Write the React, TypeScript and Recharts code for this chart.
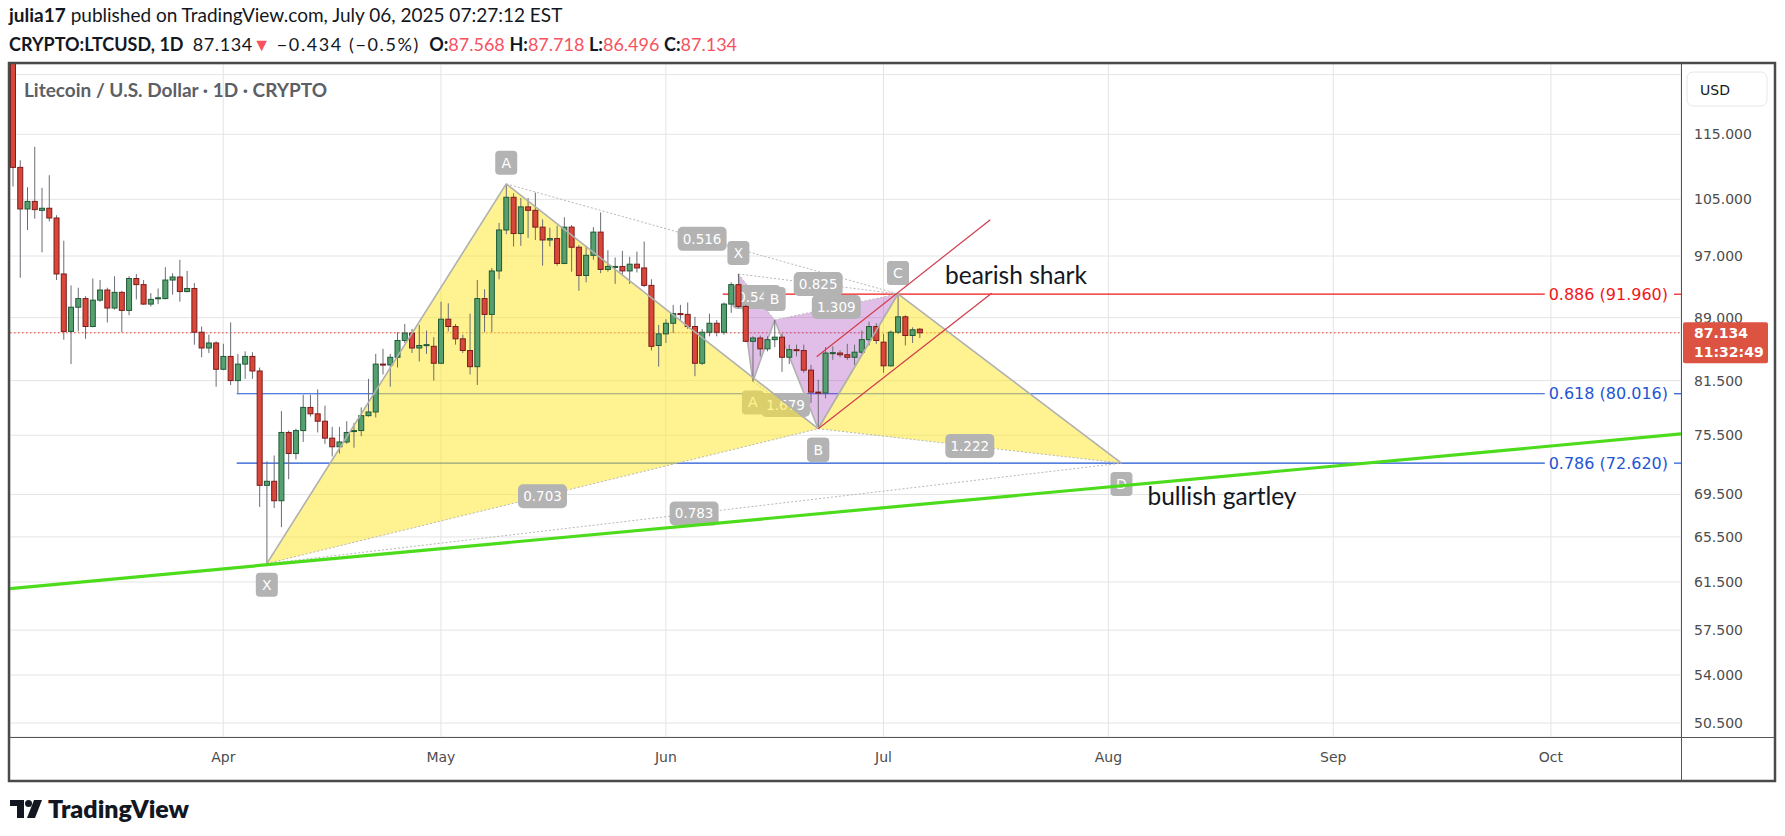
import React from "react";
import { Bar, CartesianGrid, ComposedChart, Scatter, XAxis, YAxis } from "recharts";

// x values are day numbers counted from 2025-03-01 (Apr 1 = 31)
// each row is [open, high, low, close]
const marchFirstDay = 2;
const marchOHLC = [
  [129, 131, 106.9, 109.8], [109.8, 110.9, 94.1, 103.6], [103.6, 106.8, 100.6, 104.7],
  [104.7, 113.0, 102.2, 103.5], [103.4, 106.7, 97.5, 103.7], [103.7, 108.6, 101.8, 102.3],
  [102.3, 102.7, 93.8, 94.6], [94.6, 99.1, 86.3, 87.3], [87.3, 93.1, 83.4, 90.3],
  [90.3, 92.8, 87.3, 91.4], [91.4, 91.7, 86.4, 87.9], [87.9, 94.0, 87.8, 91.2],
  [91.2, 93.8, 91.0, 92.5], [92.5, 92.8, 88.4, 90.2], [90.2, 94.3, 90.0, 92.2],
  [92.2, 92.4, 87.2, 89.9], [89.9, 94.3, 89.3, 94.0], [94.0, 94.6, 91.3, 93.2],
  [93.2, 93.8, 90.6, 90.7], [90.7, 92.1, 90.4, 91.3], [91.4, 92.7, 90.7, 91.5],
  [91.4, 95.5, 91.3, 93.8], [93.8, 94.7, 91.9, 94.2], [94.2, 96.5, 91.0, 92.3],
  [92.3, 95.0, 92.2, 92.7], [92.7, 93.4, 85.7, 87.2], [87.2, 87.9, 84.2, 85.3],
  [85.3, 86.9, 84.7, 85.9], [85.9, 86.1, 80.8, 82.8],
];
const aprilFirstDay = 31;
const aprilOHLC = [
  [82.8, 85.8, 82.7, 84.3], [84.3, 88.4, 81.0, 81.5], [81.5, 84.6, 80.1, 83.4],
  [83.4, 84.9, 81.7, 84.3], [84.3, 84.8, 81.7, 82.6], [82.6, 83.0, 68.3, 70.4],
  [70.4, 72.8, 63.1, 70.8], [70.8, 73.4, 68.2, 68.9], [68.9, 78.1, 66.4, 75.8],
  [75.8, 76.0, 71.0, 73.6], [73.6, 76.2, 73.0, 76.0], [76.0, 79.9, 74.8, 78.5],
  [78.5, 79.9, 77.5, 77.8], [77.8, 80.5, 75.8, 77.0], [77.0, 78.7, 74.6, 75.2],
  [75.2, 76.4, 73.3, 74.3], [74.3, 76.4, 73.6, 74.8], [74.8, 77.0, 74.6, 75.8],
  [75.9, 76.8, 74.2, 76.0], [76.0, 78.5, 75.4, 77.6], [77.6, 81.7, 77.5, 78.0],
  [78.0, 84.6, 77.4, 83.4], [83.4, 85.2, 82.2, 83.3], [83.3, 84.6, 80.8, 84.2],
  [84.2, 87.2, 83.0, 86.2], [86.2, 88.2, 85.9, 87.1], [87.1, 87.6, 84.7, 85.3],
  [85.3, 88.1, 83.7, 85.6], [85.6, 87.4, 84.6, 85.7], [85.5, 86.6, 81.5, 83.5],
];
const mayFirstDay = 61;
const mayOHLC = [
  [83.5, 91.0, 83.4, 88.8], [88.8, 90.8, 87.3, 87.9], [87.9, 88.2, 85.7, 86.4],
  [86.4, 86.9, 84.7, 85.0], [85.0, 89.5, 82.2, 83.1], [83.1, 93.8, 81.0, 91.4],
  [91.4, 92.6, 87.2, 89.4], [89.4, 95.4, 87.2, 95.0], [95.0, 101.6, 93.9, 100.6],
  [100.6, 107.3, 100.0, 105.3], [105.3, 105.9, 98.3, 100.1], [100.1, 105.2, 98.4, 103.9],
  [103.9, 105.2, 99.5, 103.4], [103.4, 106.0, 99.2, 101.0], [101.0, 102.1, 95.7, 99.2],
  [99.2, 100.9, 98.3, 99.4], [99.4, 101.2, 95.7, 96.0], [96.0, 102.4, 95.9, 101.0],
  [101.0, 101.3, 94.9, 98.2], [98.2, 98.5, 92.4, 94.4], [94.4, 98.4, 93.5, 97.1],
  [97.1, 101.0, 96.5, 100.3], [100.3, 103.1, 94.7, 95.2], [95.2, 97.8, 94.9, 95.6],
  [95.5, 96.8, 93.3, 95.6], [95.6, 97.7, 94.5, 95.0], [95.0, 96.9, 93.3, 95.9],
  [95.9, 97.6, 94.8, 95.4], [95.4, 99.0, 92.9, 93.1], [93.1, 93.9, 85.0, 85.5],
  [85.6, 88.1, 83.1, 87.0],
];
const juneFirstDay = 92;
const juneOHLC = [
  [87.0, 88.8, 85.9, 88.3], [88.3, 90.6, 87.1, 89.5], [89.5, 90.6, 88.7, 89.4],
  [89.4, 90.9, 87.6, 87.9], [87.9, 89.1, 82.0, 83.5], [83.5, 87.6, 83.3, 87.2],
  [87.2, 89.5, 86.7, 88.3], [88.3, 88.7, 86.7, 87.2], [87.2, 90.9, 86.9, 90.7],
  [90.7, 93.5, 89.6, 93.2], [93.2, 94.6, 90.2, 90.4], [90.4, 90.6, 86.0, 86.1],
  [86.1, 86.7, 81.4, 86.5], [86.5, 86.8, 84.3, 85.2], [85.2, 86.7, 84.9, 86.3],
  [86.3, 88.7, 85.4, 86.6], [86.6, 87.0, 82.5, 84.2], [84.2, 85.7, 83.4, 85.1],
  [85.1, 85.7, 84.3, 85.0], [85.0, 85.7, 82.4, 82.7], [82.7, 83.3, 79.0, 80.2],
  [80.2, 81.6, 76.2, 80.1], [80.1, 85.4, 79.5, 84.7], [84.7, 85.5, 83.9, 84.75],
  [84.7, 85.0, 84.2, 84.5], [84.5, 85.8, 83.9, 84.2], [84.2, 85.7, 83.3, 84.8],
  [84.8, 87.4, 84.6, 86.3], [86.3, 88.5, 85.6, 87.9], [87.9, 88.3, 85.8, 86.2],
];
const julyFirstDay = 122;
const julyOHLC = [
  [86.0, 87.0, 82.4, 83.2], [83.2, 87.4, 83.1, 87.2], [87.2, 92.0, 87.0, 89.1],
  [89.1, 89.3, 85.6, 86.8], [86.8, 87.8, 85.9, 87.5], [87.568, 87.718, 86.496, 87.134],
];

const monthTicks = [31, 61, 92, 122, 153, 184, 214];
const monthLabels = ["Apr", "May", "Jun", "Jul", "Aug", "Sep", "Oct"];
const priceTicks = [125, 115, 105, 97, 89, 81.5, 75.5, 69.5, 65.5, 61.5, 57.5, 54, 50.5];
const hiddenTick = 125; // sits under the USD badge
const lastPrice = 87.134;
const countdown = "11:32:49";

// bullish gartley X A B C D
const gartleyNames = ["X", "A", "B", "C", "D"];
const gartleyDays = [37, 70, 113, 124, 154.8];
const gartleyPrices = [63.1, 107.3, 76.2, 92.0, 72.62];
const gartleyRatios = ["0.703", "0.516", "1.222", "0.783"]; // XB, AC, BD, XD

// bearish shark X A B C D
const sharkNames = ["X", "A", "B", "C", "D"];
const sharkDays = [102, 104, 107, 113, 124];
const sharkPrices = [94.6, 81.4, 88.7, 76.2, 92.0];
const sharkRatios = ["0.541", "1.679", "1.309", "0.825"];

// fib levels
const levelNames = ["0.886", "0.618", "0.786"];
const levelPrices = [91.96, 80.016, 72.62];
const levelStartDays = [99.84, 32.85, 32.85];

const trendDays = [1.6, 231.93];
const trendPrices = [60.94, 75.64];
const channelUpperDays = [112.79, 136.73];
const channelUpperPrices = [84.27, 102.06];
const channelLowerDays = [113, 136.91];
const channelLowerPrices = [76.2, 92.09];

const X_DOMAIN: [number, number] = [1.6, 231.93];
const Y_DOMAIN: [number, number] = [49.52, 126.87];

const candles = [
  { start: marchFirstDay, rows: marchOHLC },
  { start: aprilFirstDay, rows: aprilOHLC },
  { start: mayFirstDay, rows: mayOHLC },
  { start: juneFirstDay, rows: juneOHLC },
  { start: julyFirstDay, rows: julyOHLC },
].flatMap((m) => m.rows.map((r, i) => ({ d: m.start + i, o: r[0], h: r[1], l: r[2], c: r[3] })));

const toPoints = (days: number[], prices: number[]) => days.map((d, i) => ({ d, p: prices[i] }));

const AXIS_FONT = "DejaVu Sans";
const TEXT_FONT = "Lato, 'Open Sans', sans-serif";
const GREY_LABEL = "#b3b3b3";

type Pt = { x: number; y: number };

const Candle = (props: any) => {
  const { x, y, width, height, payload } = props;
  if (!payload || !Number.isFinite(x) || !Number.isFinite(y)) return <g />;
  const cx = x + width / 2;
  const top = Math.min(y, y + height);
  const bot = Math.max(y, y + height);
  const span = Math.log(payload.h / payload.l);
  const toY = (v: number) => top + (Math.log(payload.h / v) / span) * (bot - top);
  const up = payload.c >= payload.o;
  const yo = toY(payload.o);
  const yc = toY(payload.c);
  const bt = Math.min(yo, yc);
  const bh = Math.max(1, Math.abs(yc - yo));
  return (
    <g>
      <line x1={cx} x2={cx} y1={top} y2={bot} stroke="#6a6d75" strokeWidth={1} />
      <rect
        x={cx - 2.5}
        y={bt}
        width={5}
        height={bh}
        fill={up ? "#56a070" : "#d7473a"}
        stroke={up ? "#1f5a36" : "#7d1c1c"}
        strokeWidth={1}
      />
    </g>
  );
};

const Nothing = () => <g />;

const pointTag = (p: Pt, text: string, key: string) => (
  <g key={key}>
    <rect x={p.x - 11} y={p.y - 12} width={22} height={24} rx={4} fill={GREY_LABEL} />
    <text x={p.x} y={p.y} textAnchor="middle" dominantBaseline="central" fill="#fff" fontSize={14} fontFamily={AXIS_FONT}>
      {text}
    </text>
  </g>
);

const ratioTag = (p: Pt, text: string, key: string) => {
  const w = text.length * 7.8 + 10;
  return (
    <g key={key}>
      <rect x={p.x - w / 2} y={p.y - 12} width={w} height={24} rx={5} fill={GREY_LABEL} />
      <text x={p.x} y={p.y} textAnchor="middle" dominantBaseline="central" fill="#fff" fontSize={13.5} fontFamily={AXIS_FONT}>
        {text}
      </text>
    </g>
  );
};

const mid = (a: Pt, b: Pt): Pt => ({ x: (a.x + b.x) / 2, y: (a.y + b.y) / 2 });

function patternLayer(
  names: string[],
  ratios: string[],
  fill: string,
  part: "all" | "fill" | "marks",
  note?: { text: string; dx: number; dy: number }
) {
  return (props: any) => {
    const pts: Pt[] = props.points;
    if (!pts || pts.length < 5) return <g />;
    const [X, A, B, C, D] = pts;
    const poly = (ps: Pt[]) => ps.map((p) => `${p.x},${p.y}`).join(" ");
    const fills = (
      <g>
        <polygon points={poly([X, A, B])} fill={fill} />
        <polygon points={poly([B, C, D])} fill={fill} />
      </g>
    );
    if (part === "fill") return fills;
    const edges = [[X, A], [A, B], [B, C], [C, D]];
    const dotted = [[X, B], [A, C], [B, D], [X, D]];
    const marks = (
      <g>
        {dotted.map(([a, b], i) => (
          <line key={"d" + i} x1={a.x} y1={a.y} x2={b.x} y2={b.y} stroke="#b8b8b8" strokeWidth={1} strokeDasharray="2 2" />
        ))}
        {edges.map(([a, b], i) => (
          <line key={"e" + i} x1={a.x} y1={a.y} x2={b.x} y2={b.y} stroke="#b0b0b0" strokeWidth={1.6} />
        ))}
        {dotted.map(([a, b], i) => ratioTag(mid(a, b), ratios[i], "r" + i))}
        {pts.map((p, i) => {
          const nb = pts[i + 1] ?? pts[i - 1];
          const above = p.y < nb.y;
          return pointTag({ x: p.x, y: above ? p.y - 21 : p.y + 21 }, names[i], "p" + i);
        })}
        {note && (
          <text x={D.x + note.dx} y={D.y + note.dy} fill="#131722" fontSize={24.5} fontFamily={TEXT_FONT}>
            {note.text}
          </text>
        )}
      </g>
    );
    if (part === "marks") return marks;
    return (
      <g>
        {fills}
        {marks}
      </g>
    );
  };
}

const levelLayer = (name: string, price: number, color: string) => (props: any) => {
  const pts: Pt[] = props.points;
  if (!pts || pts.length < 2) return <g />;
  const [a, b] = pts;
  const label = `${name} (${price.toFixed(3)})`;
  const right = b.x - 13;
  const w = label.length * 8.3;
  return (
    <g>
      <line x1={a.x} y1={a.y} x2={right - w - 7} y2={a.y} stroke={color} strokeWidth={1.2} />
      <line x1={right + 6} y1={a.y} x2={b.x} y2={a.y} stroke={color} strokeWidth={1.2} />
      <text x={right} y={a.y} textAnchor="end" dominantBaseline="central" fill={color} fontSize={16} fontFamily={AXIS_FONT}>
        {label}
      </text>
    </g>
  );
};

const plainLine = (color: string, width: number, dash?: string) => (props: any) => {
  const pts: Pt[] = props.points;
  if (!pts || pts.length < 2) return <g />;
  return (
    <line
      x1={pts[0].x}
      y1={pts[0].y}
      x2={pts[pts.length - 1].x}
      y2={pts[pts.length - 1].y}
      stroke={color}
      strokeWidth={width}
      strokeDasharray={dash}
    />
  );
};

const PriceTick = (props: any) => {
  const { x, y, payload } = props;
  const v = payload.value as number;
  if (v === hiddenTick) return <g />;
  if (v === lastPrice) {
    return (
      <g>
        <rect x={x - 11} y={y - 10.5} width={85} height={41} rx={2} fill="#dc5342" />
        <text x={x} y={y} dy="0.355em" fill="#fff" fontSize={14} fontWeight="bold" fontFamily={AXIS_FONT}>
          {lastPrice.toFixed(3)}
        </text>
        <text x={x} y={y + 19.5} dy="0.355em" fill="#fff" fontSize={14} fontWeight="bold" fontFamily={AXIS_FONT}>
          {countdown}
        </text>
      </g>
    );
  }
  return (
    <text x={x} y={y} dy="0.355em" fill="#4d4d4d" fontSize={14} fontFamily={AXIS_FONT}>
      {v.toFixed(3)}
    </text>
  );
};

const levelColors = ["#f01818", "#1f55d4", "#1f55d4"];

export default function App() {
  const gartleyPts = toPoints(gartleyDays, gartleyPrices);
  const sharkPts = toPoints(sharkDays, sharkPrices);
  const red = "#f7525f";
  return (
    <div style={{ position: "absolute", left: 0, top: 0, width: 1785, height: 836, background: "#fff", overflow: "hidden" }}>
      <div style={{ position: "absolute", left: 9, top: 4, fontFamily: TEXT_FONT, fontSize: 19, lineHeight: "22px", color: "#131722", whiteSpace: "nowrap" }}>
        <b>julia17</b> published on TradingView.com, July 06, 2025 07:27:12 EST
      </div>
      <div style={{ position: "absolute", left: 9, top: 33, fontFamily: TEXT_FONT, fontSize: 18, lineHeight: "22px", color: "#131722", whiteSpace: "nowrap" }}>
        <b>CRYPTO:LTCUSD, 1D</b>&nbsp; <span style={{ letterSpacing: 0.6 }}>87.134</span>
        <span style={{ color: red }}>▼</span>
        <span style={{ letterSpacing: 1.6 }}> −0.434 (−0.5%)</span>&nbsp; <b>O:</b>
        <span style={{ color: red }}>87.568</span> <b>H:</b>
        <span style={{ color: red }}>87.718</span> <b>L:</b>
        <span style={{ color: red }}>86.496</span> <b>C:</b>
        <span style={{ color: red }}>87.134</span>
      </div>

      <div style={{ position: "absolute", left: 0, top: 0 }}>
        <ComposedChart width={1785} height={836} data={candles} margin={{ top: 64, right: 10, bottom: 55, left: 10 }}>
          <CartesianGrid stroke="#e4e4e4" />
          <XAxis
            dataKey="d"
            type="number"
            domain={X_DOMAIN}
            allowDataOverflow
            ticks={monthTicks}
            tickFormatter={(v: number) => monthLabels[monthTicks.indexOf(v)] ?? ""}
            axisLine={false}
            tickLine={false}
            height={44}
            tickMargin={9}
            tick={{ fontSize: 14, fill: "#4d4d4d", fontFamily: AXIS_FONT }}
          />
          <XAxis xAxisId="ov" dataKey="d" type="number" domain={X_DOMAIN} allowDataOverflow hide />
          <YAxis
            orientation="right"
            type="number"
            scale="log"
            domain={Y_DOMAIN}
            allowDataOverflow
            ticks={[...priceTicks, lastPrice]}
            interval={0}
            width={94}
            axisLine={false}
            tickLine={false}
            tickMargin={7}
            tick={<PriceTick />}
          />

          {levelNames.map((n, i) => (
            <Scatter
              key={n}
              xAxisId="ov"
              data={[{ d: levelStartDays[i], p: levelPrices[i] }, { d: X_DOMAIN[1], p: levelPrices[i] }]}
              dataKey="p"
              shape={Nothing}
              line={levelLayer(n, levelPrices[i], levelColors[i])}
              isAnimationActive={false}
              zIndex={50}
            />
          ))}
          <Scatter
            xAxisId="ov"
            data={[{ d: X_DOMAIN[0], p: lastPrice }, { d: X_DOMAIN[1], p: lastPrice }]}
            dataKey="p"
            shape={Nothing}
            line={plainLine("#e0453a", 1, "1.5 2.5")}
            isAnimationActive={false}
            zIndex={55}
          />
          <Scatter
            xAxisId="ov"
            data={sharkPts}
            dataKey="p"
            shape={Nothing}
            line={patternLayer(sharkNames, sharkRatios, "rgba(155, 39, 176, 0.3)", "all", { text: "bearish shark", dx: 47, dy: -10 })}
            isAnimationActive={false}
            zIndex={80}
          />
          <Scatter
            xAxisId="ov"
            data={gartleyPts}
            dataKey="p"
            shape={Nothing}
            line={patternLayer(gartleyNames, gartleyRatios, "rgba(255, 232, 45, 0.52)", "fill")}
            isAnimationActive={false}
            zIndex={100}
          />
          <Bar dataKey={(r: any) => [r.l, r.h]} shape={(p: any) => <Candle {...p} />} isAnimationActive={false} zIndex={300} />
          <Scatter
            xAxisId="ov"
            data={gartleyPts}
            dataKey="p"
            shape={Nothing}
            line={patternLayer(gartleyNames, gartleyRatios, "none", "marks", { text: "bullish gartley", dx: 26, dy: 42 })}
            isAnimationActive={false}
            zIndex={400}
          />
          <Scatter
            xAxisId="ov"
            data={toPoints(trendDays, trendPrices)}
            dataKey="p"
            shape={Nothing}
            line={plainLine("#4cdc1c", 3.2)}
            isAnimationActive={false}
            zIndex={450}
          />
          <Scatter
            xAxisId="ov"
            data={toPoints(channelUpperDays, channelUpperPrices)}
            dataKey="p"
            shape={Nothing}
            line={plainLine("#d23c4b", 1.2)}
            isAnimationActive={false}
            zIndex={450}
          />
          <Scatter
            xAxisId="ov"
            data={toPoints(channelLowerDays, channelLowerPrices)}
            dataKey="p"
            shape={Nothing}
            line={plainLine("#d23c4b", 1.2)}
            isAnimationActive={false}
            zIndex={450}
          />
        </ComposedChart>
      </div>

      <div style={{ position: "absolute", left: 24, top: 79, fontFamily: TEXT_FONT, fontSize: 19, fontWeight: 700, lineHeight: "22px", color: "#5d5f66", whiteSpace: "nowrap" }}>
        Litecoin / U.S. Dollar · 1D · CRYPTO
      </div>

      <svg width={1785} height={836} style={{ position: "absolute", left: 0, top: 0, pointerEvents: "none" }}>
        <rect x={9} y={63} width={1766} height={718} fill="none" stroke="#4a4a4a" strokeWidth={2.5} />
        <line x1={9} x2={1775} y1={737.5} y2={737.5} stroke="#555" strokeWidth={1} />
        <line x1={1681.5} x2={1681.5} y1={63} y2={781} stroke="#555" strokeWidth={1} />
        <rect x={1687} y={72} width={80} height={34} rx={6} fill="#fff" stroke="#e6e6e6" />
        <text x={1700} y={90} dominantBaseline="central" fontSize={14} fontFamily={AXIS_FONT} fill="#131722">
          USD
        </text>
        <path d="M10 800 H24 V818 H17 V806 H10 Z" fill="#131722" />
        <circle cx={28.5} cy={803.5} r={3.5} fill="#131722" />
        <path d="M34 800 H42 L35 818 H27 Z" fill="#131722" />
        <text x={48} y={818} fontSize={25} fontWeight={800} fontFamily={TEXT_FONT} fill="#131722">
          TradingView
        </text>
      </svg>
    </div>
  );
}
